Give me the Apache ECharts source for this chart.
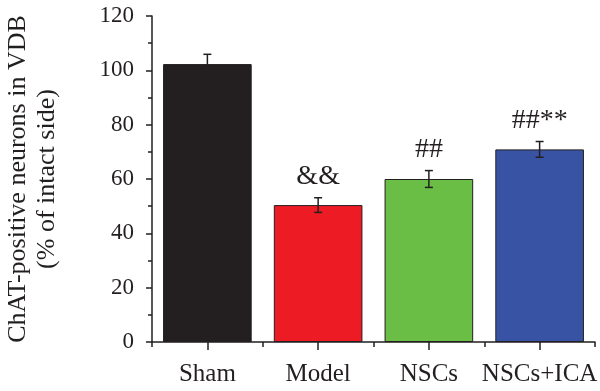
<!DOCTYPE html>
<html><head><meta charset="utf-8">
<script src="https://cdn.jsdelivr.net/npm/echarts@6/dist/echarts.min.js"></script>
<style>html,body{margin:0;padding:0;background:#fff}#c{width:600px;height:391px}</style>
</head><body><div id="c"></div>
<script>
var categories = ['Sham', 'Model', 'NSCs', 'NSCs+ICA'];
var means = [102.3, 50.4, 60.0, 70.9];
var errors = [3.6, 2.7, 3.1, 2.9];
var marks = ['', '&&', '##', '##**'];
var colors = ['#231f20', '#ed1c24', '#6abd45', '#3953a4'];
var yTicks = [0, 20, 40, 60, 80, 100, 120];

var FONT = 'Liberation Serif';
var chart = echarts.init(document.getElementById('c'), null, {renderer: 'canvas'});
chart.setOption({
  animation: false,
  grid: {left: 152, right: 5, top: 16, bottom: 49, containLabel: false, outerBoundsMode: 'none'},
  xAxis: [{
    type: 'category', data: categories,
    axisLine: {lineStyle: {color: '#231f20', width: 1.5}},
    axisTick: {show: true, length: 5, lineStyle: {color: '#231f20', width: 1.5}},
    axisLabel: {fontFamily: FONT, fontSize: 25, color: '#231f20', margin: 20, interval: 0}
  }, {
    type: 'category', data: categories, position: 'bottom',
    axisLine: {show: false},
    axisTick: {show: true, alignWithLabel: true, length: 8, lineStyle: {color: '#231f20', width: 1.5}},
    axisLabel: {show: false}
  }],
  yAxis: {
    type: 'value', min: yTicks[0], max: yTicks[yTicks.length - 1], interval: 20,
    name: 'ChAT-positive neurons in VDB\n(% of intact side)',
    nameLocation: 'middle', nameRotate: 90, nameGap: 90,
    nameTextStyle: {fontFamily: FONT, fontSize: 26, color: '#231f20', lineHeight: 29},
    axisLine: {show: true, lineStyle: {color: '#231f20', width: 1.5}},
    axisTick: {show: true, length: 6, lineStyle: {color: '#231f20', width: 1.5}},
    minorTick: {show: true, splitNumber: 2, length: 4, lineStyle: {color: '#231f20', width: 1.5}},
    splitLine: {show: false},
    axisLabel: {fontFamily: FONT, fontSize: 23, color: '#231f20', margin: 18}
  },
  series: [{
    type: 'bar', barWidth: '80%',
    data: means.map(function (v, i) {
      return {value: v, itemStyle: {color: colors[i], borderColor: '#231f20', borderWidth: 1}};
    })
  }, {
    type: 'custom',
    data: means.map(function (v, i) { return [i, v, errors[i]]; }),
    renderItem: function (params, api) {
      var i = api.value(0), m = api.value(1), e = api.value(2);
      var top = api.coord([i, m + e]);
      var bot = api.coord([i, m - e]);
      var hw = 4;
      var style = {stroke: '#231f20', lineWidth: 1.5};
      var children = [
        {type: 'line', shape: {x1: top[0], y1: top[1], x2: bot[0], y2: bot[1]}, style: style},
        {type: 'line', shape: {x1: top[0] - hw, y1: top[1], x2: top[0] + hw, y2: top[1]}, style: style},
        {type: 'line', shape: {x1: bot[0] - hw, y1: bot[1], x2: bot[0] + hw, y2: bot[1]}, style: style}
      ];
      if (marks[i]) {
        children.push({type: 'text', style: {
          text: marks[i], x: top[0], y: top[1] - 7, align: 'center', verticalAlign: 'bottom',
          fontFamily: FONT, fontSize: 28, fill: '#231f20'
        }});
      }
      return {type: 'group', children: children};
    },
    z: 5
  }]
});
</script></body></html>
